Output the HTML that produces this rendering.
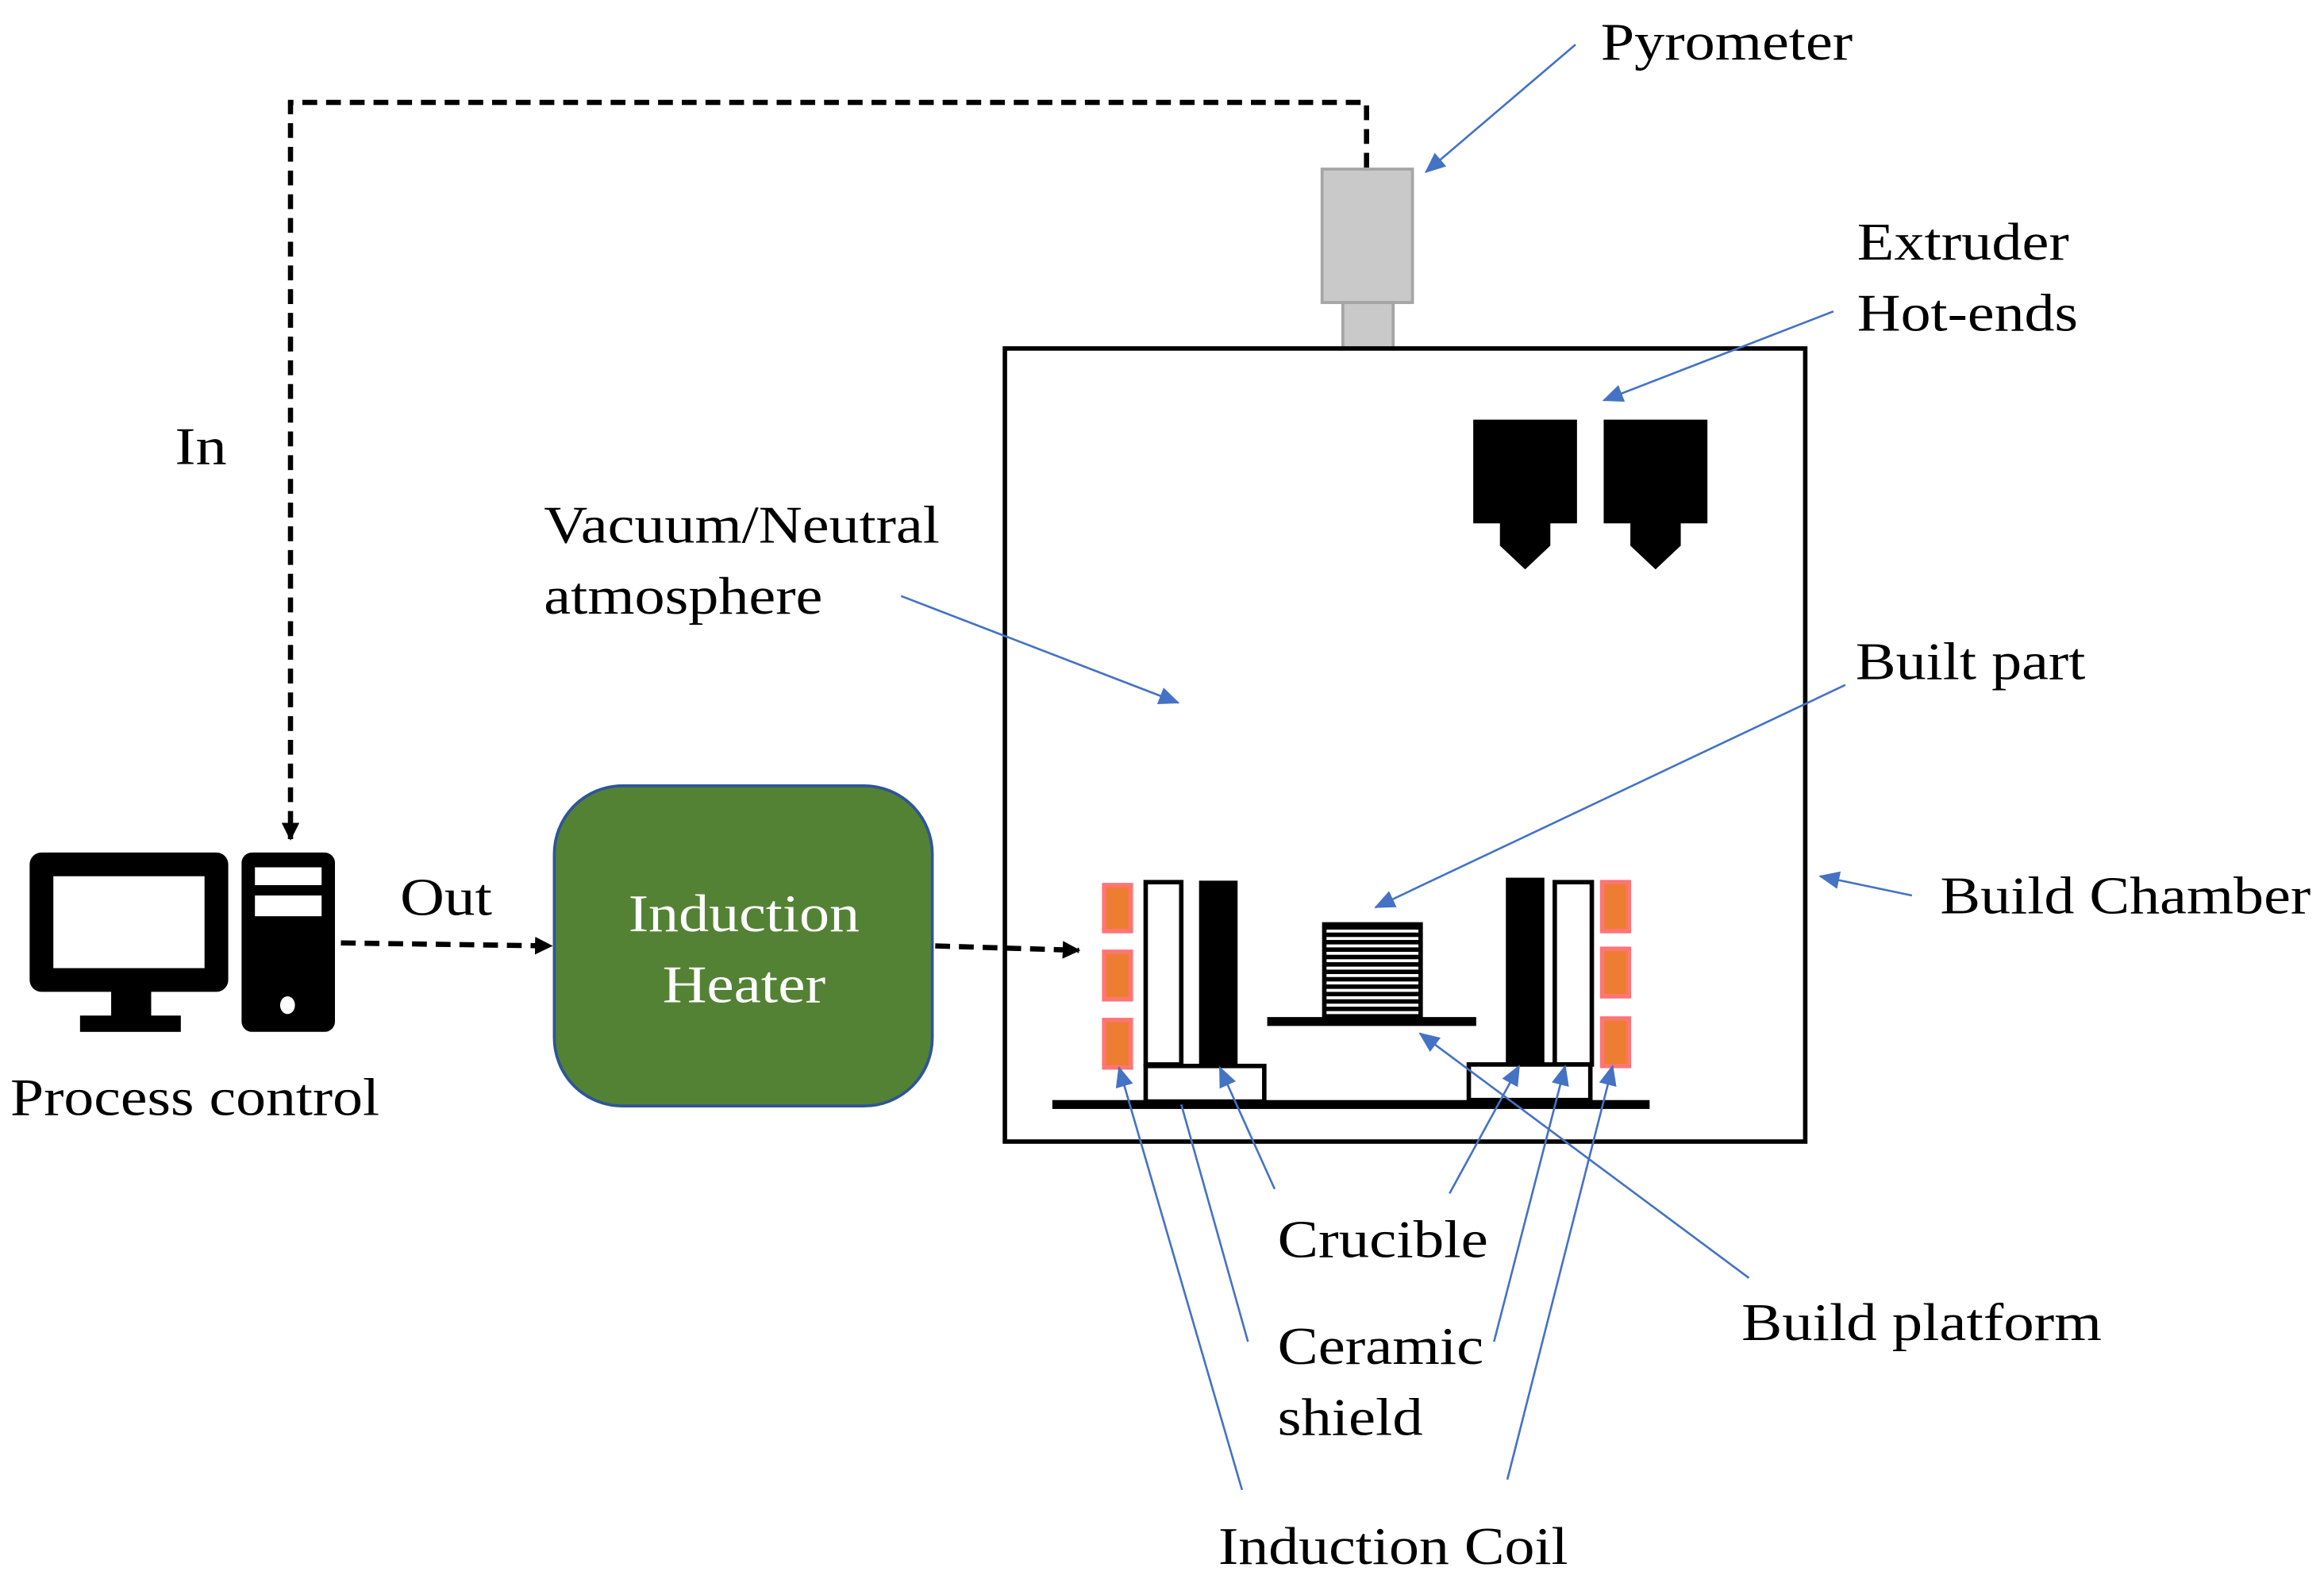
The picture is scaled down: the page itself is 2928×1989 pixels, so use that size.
<!DOCTYPE html>
<html><head><meta charset="utf-8"><style>
html,body{margin:0;padding:0;background:#fff;}
svg{display:block;}
text{font-family:"Liberation Serif",serif;font-size:36px;fill:#000;}
</style></head><body>
<svg width="2928" height="1989" viewBox="0 0 1568 1065" xmlns="http://www.w3.org/2000/svg">
<defs>
<marker id="bk" markerWidth="12" markerHeight="12" refX="11" refY="6" orient="auto" markerUnits="userSpaceOnUse"><path d="M0,0 L12,6 L0,12 Z" fill="#000"/></marker>
<marker id="bl" markerWidth="14" markerHeight="12" refX="13" refY="6" orient="auto" markerUnits="userSpaceOnUse"><path d="M0,0 L14,6 L0,12 Z" fill="#4472c4"/></marker>
</defs>
<path d="M922,113 V69 H196 V566" fill="none" stroke="#000" stroke-width="3.5" stroke-dasharray="10,6" marker-end="url(#bk)"/>
<path d="M230,636 L372,638" fill="none" stroke="#000" stroke-width="3.5" stroke-dasharray="10,6" marker-end="url(#bk)"/>
<path d="M631,638 L728,641" fill="none" stroke="#000" stroke-width="3.5" stroke-dasharray="10,6" marker-end="url(#bk)"/>
<rect x="892" y="114" width="61" height="90" fill="#c9c9c9" stroke="#a5a5a5" stroke-width="2"/>
<rect x="906" y="204" width="34" height="31" fill="#c9c9c9" stroke="#a5a5a5" stroke-width="2"/>
<rect x="678" y="235" width="540" height="535" fill="none" stroke="#000" stroke-width="3"/>
<path d="M994,283 H1064 V353 H1046 V368 L1029,384 L1012,368 V353 H994 Z" fill="#000"/>
<path d="M1082,283 H1152 V353 H1134 V368 L1117,384 L1100,368 V353 H1082 Z" fill="#000"/>
<rect x="20" y="575" width="134" height="94" rx="8" fill="#000"/>
<rect x="36" y="591" width="102" height="62" fill="#fff"/>
<rect x="75" y="668" width="27" height="18" fill="#000"/>
<rect x="54" y="685" width="68" height="11" fill="#000"/>
<rect x="163" y="575" width="63" height="121" rx="7" fill="#000"/>
<rect x="172" y="585" width="45" height="12" fill="#fff"/>
<rect x="172" y="604" width="45" height="14" fill="#fff"/>
<ellipse cx="194" cy="678" rx="5" ry="6" fill="#fff"/>
<text x="7" y="752" textLength="249" lengthAdjust="spacingAndGlyphs">Process control</text>
<text x="270" y="617" textLength="62" lengthAdjust="spacingAndGlyphs">Out</text>
<text x="118" y="313" textLength="35" lengthAdjust="spacingAndGlyphs">In</text>
<rect x="374" y="530" width="255" height="216" rx="46" fill="#548235" stroke="#2f5597" stroke-width="2"/>
<text x="424" y="628" textLength="156" lengthAdjust="spacingAndGlyphs" style="fill:#fff">Induction</text>
<text x="447" y="676" textLength="110" lengthAdjust="spacingAndGlyphs" style="fill:#fff">Heater</text>
<g fill="#ed7d31" stroke="#ff7474" stroke-width="3">
<rect x="745" y="597" width="18" height="31"/><rect x="745" y="642" width="18" height="32"/><rect x="745" y="688" width="18" height="32"/>
<rect x="1081" y="595" width="18" height="33"/><rect x="1081" y="640" width="18" height="32"/><rect x="1081" y="687" width="18" height="32"/>
</g>
<rect x="773" y="595" width="24" height="123" fill="#fff" stroke="#000" stroke-width="3"/>
<rect x="809" y="594" width="26" height="125" fill="#000"/>
<rect x="773" y="719" width="80" height="24" fill="#fff" stroke="#000" stroke-width="3"/>
<rect x="1016" y="592" width="26" height="127" fill="#000"/>
<rect x="1049" y="595" width="25" height="123" fill="#fff" stroke="#000" stroke-width="3"/>
<rect x="991" y="718" width="82" height="24" fill="#fff" stroke="#000" stroke-width="3"/>
<rect x="710" y="742" width="403" height="6" fill="#000"/>
<rect x="855" y="686" width="141" height="6" fill="#000"/>
<rect x="892" y="622" width="68" height="66" fill="#000"/>
<g fill="#fff">
<rect x="895" y="627" width="62" height="2"/><rect x="895" y="632" width="62" height="2"/><rect x="895" y="637" width="62" height="2"/><rect x="895" y="642" width="62" height="2"/><rect x="895" y="647" width="62" height="2"/><rect x="895" y="652" width="62" height="2"/><rect x="895" y="657" width="62" height="2"/><rect x="895" y="662" width="62" height="2"/><rect x="895" y="667" width="62" height="2"/><rect x="895" y="672" width="62" height="2"/><rect x="895" y="677" width="62" height="2"/><rect x="895" y="682" width="62" height="2"/>
</g>
<g stroke="#4472c4" stroke-width="1.4" fill="none" marker-end="url(#bl)">
<path d="M1063,30 L962,116"/>
<path d="M1237,210 L1082,270"/>
<path d="M608,402 L795,474"/>
<path d="M1245,462 L928,612"/>
<path d="M1290,604 L1228,591"/>
<path d="M860,802 L823,720"/>
<path d="M978,805 L1025,719"/>
<path d="M842,905 L797,745" marker-end="none"/>
<path d="M1008,905 L1056,719"/>
<path d="M838,1005 L755,720"/>
<path d="M1017,998 L1088,719"/>
<path d="M1180,862 L958,697"/>
</g>
<text x="1080" y="40" textLength="170" lengthAdjust="spacingAndGlyphs">Pyrometer</text>
<text x="1253" y="175" textLength="143" lengthAdjust="spacingAndGlyphs">Extruder</text>
<text x="1253" y="223" textLength="149" lengthAdjust="spacingAndGlyphs">Hot-ends</text>
<text x="367" y="366" textLength="267" lengthAdjust="spacingAndGlyphs">Vacuum/Neutral</text>
<text x="367" y="414" textLength="188" lengthAdjust="spacingAndGlyphs">atmosphere</text>
<text x="1252" y="458" textLength="155" lengthAdjust="spacingAndGlyphs">Built part</text>
<text x="1309" y="616" textLength="250" lengthAdjust="spacingAndGlyphs">Build Chamber</text>
<text x="862" y="848" textLength="142" lengthAdjust="spacingAndGlyphs">Crucible</text>
<text x="862" y="920" textLength="139" lengthAdjust="spacingAndGlyphs">Ceramic</text>
<text x="862" y="968" textLength="98" lengthAdjust="spacingAndGlyphs">shield</text>
<text x="1175" y="904" textLength="243" lengthAdjust="spacingAndGlyphs">Build platform</text>
<text x="822" y="1055" textLength="236" lengthAdjust="spacingAndGlyphs">Induction Coil</text>
</svg>
</body></html>
